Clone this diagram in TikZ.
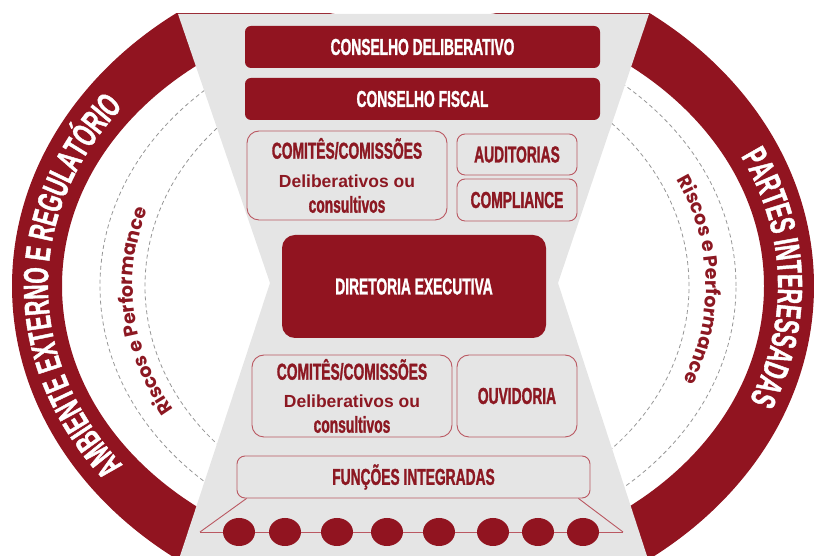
\documentclass[tikz,border=0pt]{standalone}
\usepackage{fontspec}
\setmainfont{Liberation Sans}
\newfontfamily\condfont[FakeStretch=0.6, FakeBold=1.2]{Liberation Sans}
\newfontfamily\geofont{Poppins}
\usetikzlibrary{calc}
\usetikzlibrary{shapes.geometric}
\usetikzlibrary{decorations.text}

\definecolor{ringred}{RGB}{145,20,32}
\definecolor{txtred}{RGB}{140,24,34}
\definecolor{edgered}{RGB}{186,88,98}
\definecolor{hourgrey}{RGB}{229,229,229}
\definecolor{dashgrey}{RGB}{150,150,150}

\newcommand{\headfont}{\condfont\bfseries\fontsize{23}{25}\selectfont}
\newcommand{\delibfont}{\normalfont\bfseries\fontsize{17.5}{21}\selectfont}
\newcommand{\ringfont}{\condfont\bfseries\fontsize{35}{35}\selectfont}
\newcommand{\riskfont}{\geofont\bfseries\fontsize{19}{20}\selectfont}

\tikzset{
  solidbox/.style={rectangle, fill=ringred, text=white, rounded corners=6, inner sep=0pt, font=\headfont},
  linebox/.style={rectangle, draw=edgered, line width=0.9pt, text=txtred, rounded corners=12, inner sep=0pt, font=\headfont, align=center},
  funcdot/.style={ellipse, fill=ringred, inner sep=0pt, minimum width=32, minimum height=28},
  linkline/.style={draw=edgered, line width=0.9pt},
  dashring/.style={dashgrey, line width=0.8pt, dash pattern=on 4pt off 3pt},
}

\begin{document}
\begin{tikzpicture}[x=1pt, y=1pt]
      \useasboundingbox (0,0) rectangle (814,556);

      \begin{scope}
        \clip (0,0) rectangle (814,542);
        \fill[ringred, even odd rule] (413,270) ellipse[x radius=401, y radius=338] (413,270) ellipse[x radius=351, y radius=280];
        \draw[dashring] (418,270) ellipse[x radius=318, y radius=264];
        \draw[dashring] (417,270) ellipse[x radius=272, y radius=233];
        \fill[hourgrey] (178,542) -- (649,542) -- (558,273) -- (647,0) -- (180,0) -- (270,273) -- cycle;
      \end{scope}

      \path[decorate, decoration={text along path, text align=center, text color=white,
        text={|\ringfont|AMBIENTE EXTERNO E REGULATÓRIO}}]
        (413,270) ++(230:365 and 295) arc[start angle=230, end angle=130, x radius=365, y radius=295];
      \path[decorate, decoration={text along path, text align=center, text color=white,
        text={|\ringfont|PARTES INTERESSADAS}}]
        (413,270) ++(50:365 and 295) arc[start angle=50, end angle=-47, x radius=365, y radius=295];
      \path[decorate, decoration={text along path, text align=center, text color=txtred,
        text={|\riskfont|Riscos e Performance}}]
        (417,270) ++(226:284 and 240) arc[start angle=226, end angle=146, x radius=284, y radius=240];
      \path[decorate, decoration={text along path, text align=center, text color=txtred,
        text={|\riskfont|Riscos e Performance}}]
        (417,270) ++(40:289 and 243) arc[start angle=40, end angle=-37, x radius=289, y radius=243];

      \node[solidbox, minimum width=355, minimum height=42] (delib) at (422.5,509) {CONSELHO DELIBERATIVO};
      \node[solidbox, minimum width=355, minimum height=42] (fiscal) at (422.5,457) {CONSELHO FISCAL};
      \node[linebox, minimum width=200, minimum height=89] (comtop) at (347,380.5) {COMITÊS/COMISSÕES\\[4pt]\delibfont Deliberativos ou\\consultivos};
      \node[linebox, rounded corners=8, minimum width=120, minimum height=41] (audit) at (517,401.5) {AUDITORIAS};
      \node[linebox, rounded corners=8, minimum width=120, minimum height=42] (compl) at (517,356) {COMPLIANCE};
      \node[solidbox, rounded corners=13, minimum width=264, minimum height=103] (direx) at (414,269.5) {DIRETORIA EXECUTIVA};
      \node[linebox, minimum width=200, minimum height=82] (combot) at (352,160) {COMITÊS/COMISSÕES\\[3pt]\delibfont Deliberativos ou\\consultivos};
      \node[linebox, minimum width=120, minimum height=82] (ouvid) at (517,160) {OUVIDORIA};
      \node[linebox, rounded corners=8, minimum width=353, minimum height=42] (funcs) at (413.5,79) {FUNÇÕES INTEGRADAS};

      \coordinate (trapL) at (200,24);
      \coordinate (trapR) at (623,24);
      \foreach \dx [count=\i] in {239,285,337,387,439,493,538,583}
        \node[funcdot] (dot\i) at (\dx,24) {};

      \draw[linkline] (trapL) -- ($(funcs.south west)+(10,0)$);
      \draw[linkline] (trapR) -- ($(funcs.south east)+(-12,0)$);
      \draw[linkline] (trapL) -- (dot1);
      \foreach \i [evaluate=\i as \j using int(\i+1)] in {1,...,7}
        \draw[linkline] (dot\i) -- (dot\j);
      \draw[linkline] (dot8) -- (trapR);
\end{tikzpicture}
\end{document}
